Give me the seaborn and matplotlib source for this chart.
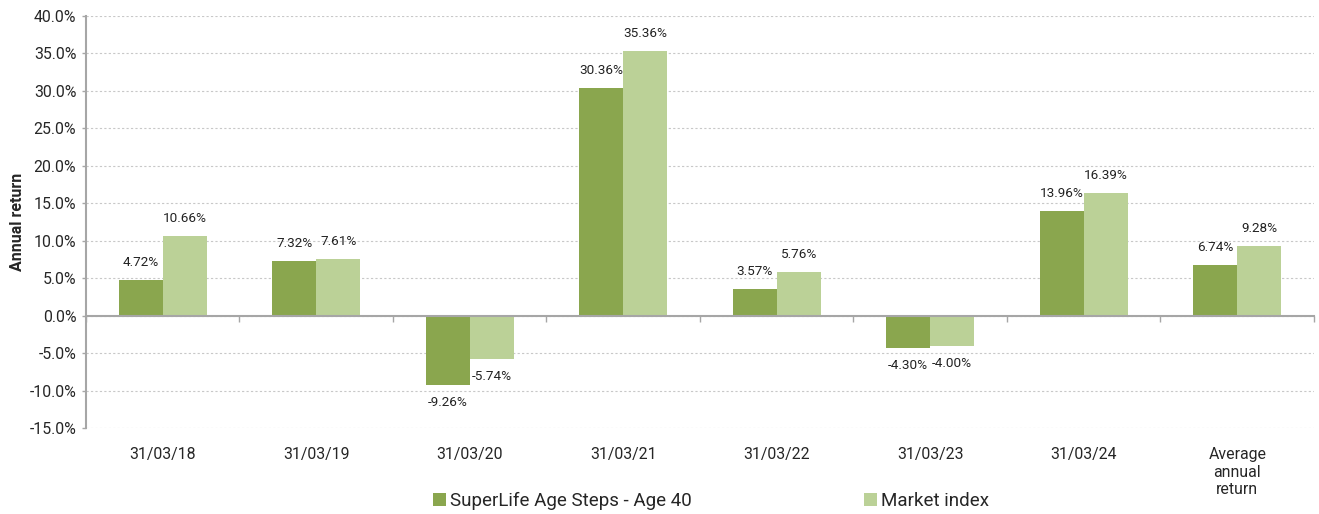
import numpy as np
import pandas as pd
import seaborn as sns
import matplotlib.pyplot as plt
from matplotlib.ticker import FuncFormatter

# ===============================
# Data (annual returns, %)
# ===============================
CATEGORIES = ["31/03/18", "31/03/19", "31/03/20", "31/03/21",
              "31/03/22", "31/03/23", "31/03/24", "Average\nannual\nreturn"]
FUND_NAME = "SuperLife Age Steps - Age 40"
INDEX_NAME = "Market index"
FUND_RETURNS = [4.72, 7.32, -9.26, 30.36, 3.57, -4.30, 13.96, 6.74]
INDEX_RETURNS = [10.66, 7.61, -5.74, 35.36, 5.76, -4.00, 16.39, 9.28]
Y_TICKS = [-15, -10, -5, 0, 5, 10, 15, 20, 25, 30, 35, 40]

COLORS = {FUND_NAME: "#8AA64E", INDEX_NAME: "#BBD197"}
GREY = "#a6a6a6"

df = pd.DataFrame({
    "period": CATEGORIES * 2,
    "series": [FUND_NAME] * len(CATEGORIES) + [INDEX_NAME] * len(CATEGORIES),
    "value": FUND_RETURNS + INDEX_RETURNS,
})

sns.set_style("white")
plt.rcParams["font.family"] = ["Roboto", "DejaVu Sans"]

fig = plt.figure(figsize=(13.19, 5.14), dpi=100)
ax = fig.add_axes([0.0652, 0.1673, 0.931, 0.8016])

sns.barplot(data=df, x="period", y="value", hue="series", palette=COLORS,
            width=0.573, gap=0, saturation=1, ax=ax, errorbar=None,
            linewidth=0)

for cont in ax.containers:
    labels = [f"{v:.2f}%" for v in cont.datavalues]
    ax.bar_label(cont, labels=labels, padding=8, fontsize=9.7, color="#222222")

# axes styling
ax.set_ylim(-15, 40)
ax.set_xlim(-0.5, len(CATEGORIES) - 0.5)
ax.set_yticks(Y_TICKS)
ax.yaxis.set_major_formatter(FuncFormatter(lambda v, _: f"{v:.1f}%"))
ax.grid(axis="y", linestyle=(0, (2, 2)), color="#c8c8c8", linewidth=0.8)
ax.set_axisbelow(True)
for side in ["top", "right", "bottom"]:
    ax.spines[side].set_visible(False)
ax.spines["left"].set_color(GREY)
ax.spines["left"].set_linewidth(1.5)
ax.tick_params(axis="y", direction="out", length=3, width=1, color=GREY,
               labelsize=11.4, pad=4, left=True)
ax.tick_params(axis="x", length=0, labelsize=11.4, pad=14)
for lbl in ax.get_xticklabels():
    lbl.set_va("top")
ax.set_xlabel("")
ax.set_ylabel("Annual return", fontsize=11.5, fontweight="bold", labelpad=3)

# zero line with category boundary ticks
zero_frac = (0 - Y_TICKS[0]) / (Y_TICKS[-1] - Y_TICKS[0])
sec = ax.secondary_xaxis(zero_frac)
sec.set_zorder(5)
sec.set_xticks(np.arange(len(CATEGORIES) + 1) - 0.5)
sec.set_xticklabels([])
sec.tick_params(direction="out", length=4, width=1, color=GREY)
sec.spines["bottom"].set_color(GREY)
sec.spines["bottom"].set_linewidth(1.5)

# legend at bottom
handles, labels = ax.get_legend_handles_labels()
ax.get_legend().remove()
fig.legend(handles, labels, loc="center", bbox_to_anchor=(0.539, 0.025),
           ncol=2, frameon=False, fontsize=13.5, handlelength=0.7,
           handleheight=0.7, handletextpad=0.2, columnspacing=9.2)

fig.savefig("out.png", dpi=100)
